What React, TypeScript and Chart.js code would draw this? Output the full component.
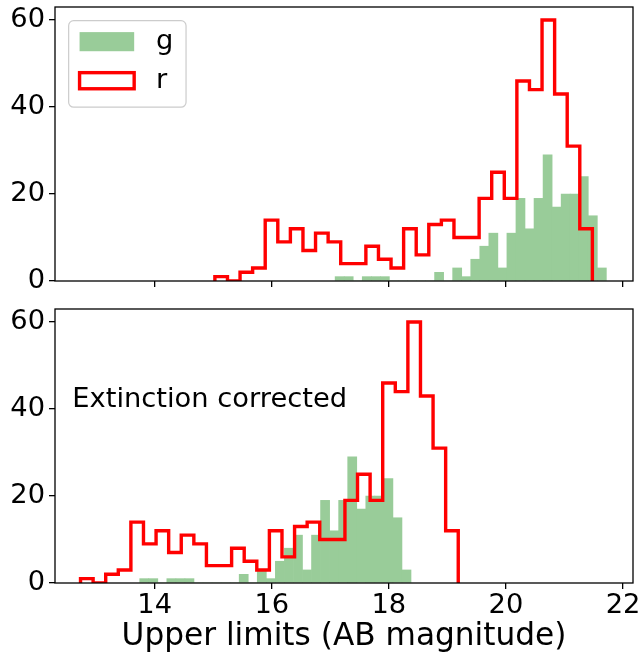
import React, { useEffect, useRef } from "react";
import { Chart, registerables } from "chart.js";

Chart.register(...registerables);

// ---------------- data ----------------
const SERIES_LABELS = ["g", "r"];
const X_TICKS = [14, 16, 18, 20, 22];
const Y_TICKS = [0, 20, 40, 60];
const X_LIMITS = [12.297, 22.17];
const Y_LIMITS = [0, 63];
const X_LABEL = "Upper limits (AB magnitude)";
const PANEL_NOTE = "Extinction corrected";

// top panel (observed): 30 bins each, spanning the given magnitude range
const gCountsObserved = [1, 1, 0, 1, 1, 1, 0, 0, 0, 0, 0, 2, 0, 3, 1, 5, 8, 11, 3, 11, 19, 12, 19, 29, 17, 20, 20, 24, 15, 3];
const gRangeObserved = [17.082, 21.715];
const rCountsObserved = [1, 0, 2, 3, 14, 9, 12, 7, 11, 9, 4, 4, 8, 5, 3, 12, 6, 13, 14, 10, 10, 19, 25, 19, 46, 44, 60, 43, 31, 12];
const rRangeObserved = [15.028, 21.476];

// bottom panel (extinction corrected)
const gCountsCorrected = [1, 1, 0, 1, 1, 1, 0, 0, 0, 0, 0, 2, 0, 3, 1, 5, 8, 11, 3, 11, 19, 12, 19, 29, 17, 20, 20, 24, 15, 3];
const gRangeCorrected = [13.744, 18.378];
const rCountsCorrected = [1, 0, 2, 3, 14, 9, 12, 7, 11, 9, 4, 4, 8, 5, 3, 12, 6, 13, 14, 10, 10, 19, 25, 19, 46, 44, 60, 43, 31, 12];
const rRangeCorrected = [12.733, 19.185];

// ---------------- styles ----------------
const FONT = "'DejaVu Sans', sans-serif";
const TICK_FS = 27.3;
const LABEL_FS = 31.2;
const GREEN_FILL = "rgb(153,204,153)";
const RED = "#ff0000";
const SPINE_W = 1.3;

// ---------------- helpers ----------------
function binEdges(range: number[], n: number) {
  const w = (range[1] - range[0]) / n;
  return Array.from({ length: n + 1 }, (_, i) => range[0] + i * w);
}
function barPoints(counts: number[], range: number[]) {
  const e = binEdges(range, counts.length);
  return counts.map((c, i) => ({ x: (e[i] + e[i + 1]) / 2, y: c }));
}
function stepPoints(counts: number[], range: number[]) {
  const e = binEdges(range, counts.length);
  return [
    { x: e[0], y: 0 },
    ...counts.map((c, i) => ({ x: e[i], y: c })),
    { x: e[counts.length], y: 0 },
  ];
}

const framePlugin = {
  id: "mplFrame",
  afterDatasetsDraw(chart: any) {
    const { ctx, chartArea: a } = chart;
    ctx.save();
    ctx.strokeStyle = "#000";
    ctx.lineWidth = SPINE_W;
    ctx.strokeRect(a.left, a.top, a.right - a.left, a.bottom - a.top);
    ctx.restore();
  },
};

const legendPlugin = {
  id: "mplLegend",
  afterDraw(chart: any) {
    const { ctx, chartArea: a } = chart;
    const fs = TICK_FS;
    const x0 = a.left + 0.5 * fs;
    const y0 = a.top + 0.5 * fs;
    const w = 4.3 * fs;
    const h = 3.17 * fs;
    ctx.save();
    ctx.beginPath();
    ctx.roundRect(x0, y0, w, h, 5);
    ctx.fillStyle = "rgba(255,255,255,0.8)";
    ctx.fill();
    ctx.strokeStyle = "#cccccc";
    ctx.lineWidth = 1.2;
    ctx.stroke();
    const ds = chart.data.datasets;
    const px = x0 + 0.4 * fs;
    const pw = 2 * fs;
    const ph = 0.7 * fs;
    const rows = [y0 + 0.77 * fs, y0 + 2.2 * fs];
    ctx.font = `${fs}px ${FONT}`;
    ctx.textBaseline = "middle";
    ctx.textAlign = "left";
    ds.forEach((d: any, i: number) => {
      const cy = rows[i];
      if (d.type === "bar") {
        ctx.fillStyle = d.backgroundColor;
        ctx.fillRect(px, cy - ph / 2, pw, ph);
      } else {
        ctx.strokeStyle = d.borderColor;
        ctx.lineWidth = d.borderWidth;
        ctx.lineJoin = "miter";
        ctx.strokeRect(px, cy - ph / 2 + 1.5, pw, ph - 3);
      }
      ctx.fillStyle = "#000";
      ctx.fillText(d.label, px + pw + 0.8 * fs, cy);
    });
    ctx.restore();
  },
};

const notePlugin = {
  id: "panelNote",
  afterDatasetsDraw(chart: any) {
    const { ctx, chartArea: a } = chart;
    ctx.save();
    ctx.font = `${TICK_FS}px ${FONT}`;
    ctx.fillStyle = "#000";
    ctx.textBaseline = "alphabetic";
    ctx.textAlign = "left";
    ctx.fillText(PANEL_NOTE, a.left + 0.03 * (a.right - a.left), a.top + 0.359 * (a.bottom - a.top));
    ctx.restore();
  },
};

function makeConfig(
  gCounts: number[],
  gRange: number[],
  rCounts: number[],
  rRange: number[],
  opt: { bottomAxis: boolean; padTop: number; xAxisHeight: number; extra: any[] }
): any {
  const tickGrid = {
    display: true,
    drawOnChartArea: false,
    drawTicks: true,
    tickLength: 6,
    tickWidth: SPINE_W,
    tickColor: "#000",
    color: "#000",
    lineWidth: SPINE_W,
    offset: false,
  };
  return {
    type: "bar",
    data: {
      datasets: [
        {
          type: "bar",
          label: SERIES_LABELS[0],
          data: barPoints(gCounts, gRange),
          backgroundColor: GREEN_FILL,
          borderWidth: 0,
          barPercentage: 1,
          categoryPercentage: 1,
          order: 1,
        },
        {
          type: "line",
          label: SERIES_LABELS[1],
          data: stepPoints(rCounts, rRange),
          borderColor: RED,
          backgroundColor: RED,
          borderWidth: 3.4,
          stepped: true,
          pointRadius: 0,
          fill: false,
          order: 0,
          clip: 0,
          borderJoinStyle: "miter",
          borderCapStyle: "butt",
        },
      ],
    },
    options: {
      responsive: false,
      animation: false,
      events: [],
      layout: { padding: { left: 0, right: 8, top: opt.padTop, bottom: 0 } },
      plugins: { legend: { display: false }, tooltip: { enabled: false } },
      scales: {
        x: {
          type: "linear",
          min: X_LIMITS[0],
          max: X_LIMITS[1],
          bounds: "data",
          offset: false,
          grid: tickGrid,
          border: { display: false },
          ticks: {
            display: opt.bottomAxis,
            autoSkip: false,
            maxRotation: 0,
            padding: 1,
            color: "#000",
            font: { family: FONT, size: TICK_FS },
          },
          title: {
            display: opt.bottomAxis,
            text: X_LABEL,
            color: "#000",
            padding: { top: 0, bottom: 0 },
            font: { family: FONT, size: LABEL_FS },
          },
          afterBuildTicks: (s: any) => {
            s.ticks = X_TICKS.map((v) => ({ value: v }));
          },
          afterFit: (s: any) => {
            s.height = opt.xAxisHeight;
            s.paddingLeft = 0;
            s.paddingRight = 0;
            s.paddingTop = 0;
            s.paddingBottom = 0;
          },
        },
        y: {
          type: "linear",
          min: Y_LIMITS[0],
          max: Y_LIMITS[1],
          bounds: "data",
          grid: tickGrid,
          border: { display: false },
          ticks: {
            padding: 4,
            color: "#000",
            font: { family: FONT, size: TICK_FS },
          },
          afterBuildTicks: (s: any) => {
            s.ticks = Y_TICKS.map((v) => ({ value: v }));
          },
          afterFit: (s: any) => {
            s.width = 55;
            s.paddingTop = 0;
            s.paddingBottom = 0;
            s.paddingLeft = 0;
            s.paddingRight = 0;
          },
        },
      },
    },
    plugins: [framePlugin, ...opt.extra],
  };
}

export default function App() {
  const topRef = useRef<HTMLCanvasElement>(null);
  const botRef = useRef<HTMLCanvasElement>(null);

  useEffect(() => {
    const top = new Chart(
      topRef.current as HTMLCanvasElement,
      makeConfig(gCountsObserved, gRangeObserved, rCountsObserved, rRangeObserved, {
        bottomAxis: false,
        padTop: 7,
        xAxisHeight: 14,
        extra: [legendPlugin],
      })
    );
    const bottom = new Chart(
      botRef.current as HTMLCanvasElement,
      makeConfig(gCountsCorrected, gRangeCorrected, rCountsCorrected, rRangeCorrected, {
        bottomAxis: true,
        padTop: 14,
        xAxisHeight: 73,
        extra: [notePlugin],
      })
    );
    return () => {
      top.destroy();
      bottom.destroy();
    };
  }, []);

  return (
    <div style={{ position: "absolute", left: 0, top: 0, width: 641, height: 656, background: "#fff" }}>
      <canvas
        ref={topRef}
        width={641}
        height={295}
        style={{ position: "absolute", left: 0, top: 0, width: 641, height: 295 }}
      />
      <canvas
        ref={botRef}
        width={641}
        height={361}
        style={{ position: "absolute", left: 0, top: 295, width: 641, height: 361 }}
      />
    </div>
  );
}
